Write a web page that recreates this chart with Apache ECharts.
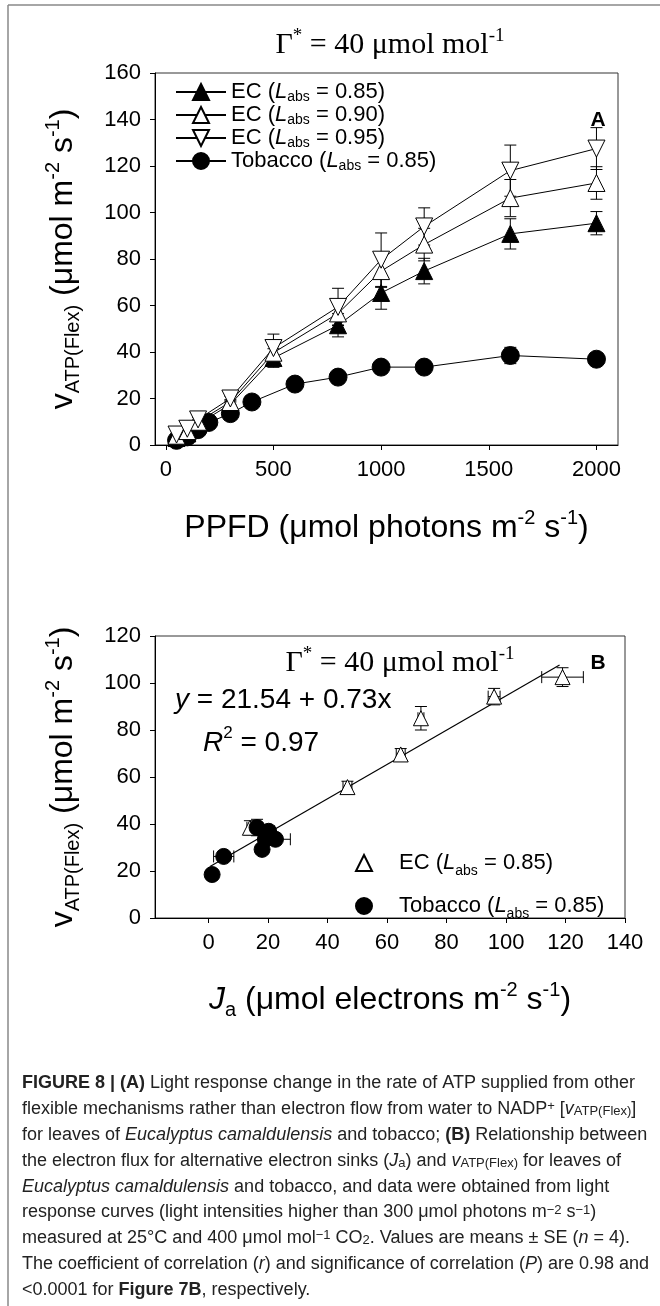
<!DOCTYPE html>
<html><head><meta charset="utf-8">
<script src="https://cdn.jsdelivr.net/npm/echarts@6/dist/echarts.min.js"></script>
<style>html,body{margin:0;padding:0;background:#fff;} #c{width:660px;height:1306px;}</style>
</head><body><div id="c"></div><script>
// ---------- Panel A data ----------
const ppfdEC = [50, 100, 150, 300, 500, 800, 1000, 1200, 1600, 2000];
const ec85 = [3, 5, 9, 17.5, 37.4, 51.5, 65.4, 74.8, 90.8, 95.4];
const ec85se = [0.5, 0.5, 0.8, 1, 4, 5, 7, 5.5, 6.5, 5];
const ec90 = [4, 6, 10, 18.5, 39.7, 56.6, 74.8, 86.2, 106.2, 112.7];
const ec90se = [0.5, 0.5, 0.8, 1, 4, 5, 7, 7, 8, 7];
const ec95 = [4.5, 7, 11, 20, 41.7, 59.4, 79.7, 94, 118, 127.5];
const ec95se = [0.5, 0.5, 0.8, 1, 6, 8, 11.5, 8, 11, 9];
const ppfdTob = [50, 100, 150, 200, 300, 400, 600, 800, 1000, 1200, 1600, 2000];
const tobA = [2, 3.5, 6.6, 9.7, 13.5, 18.5, 26.2, 29.2, 33.5, 33.5, 38.5, 36.9];
const tobAse = [0.5, 0.5, 0.8, 1, 1.5, 1.5, 1.5, 1.5, 1.8, 1.5, 3.5, 2];
const ticksA_x = [0, 500, 1000, 1500, 2000];
const legendNamesA = ['EC (Labs = 0.85)', 'EC (Labs = 0.90)', 'EC (Labs = 0.95)', 'Tobacco (Labs = 0.85)'];
// ---------- Panel B data ----------
const ecJa = [13.9, 46.7, 64.6, 71.4, 96, 119];
const ecJaSe = [1, 1.5, 1.5, 1, 2, 7];
const ecV = [38.4, 55.7, 69.6, 85, 94.2, 102.5];
const ecVSe = [3, 2.5, 2.5, 5, 3.5, 4];
const tobJa = [1.2, 5.1, 18, 19.1, 22.5, 16.3, 20.2];
const tobJaSe = [0.8, 3.4, 1, 1.5, 5, 1.5, 2];
const tobV = [18.5, 26.2, 29.2, 33.5, 33.5, 38.5, 36.9];
const tobVSe = [1, 1.5, 1.5, 1.5, 1.5, 3.5, 1.5];
const fitJa = [0.5, 118];
const fitV = [21.9, 107.7];
const ticksB_x = [0, 20, 40, 60, 80, 100, 120, 140];
const legendNamesB = ['EC (Labs = 0.85) ', 'Tobacco (Labs = 0.85) '];

const SANS = "'Liberation Sans', Arial, Helvetica, sans-serif";
const SERIF = "'Liberation Serif', 'Times New Roman', serif";
const INK = '#000';

const chart = echarts.init(document.getElementById('c'), null, {renderer: 'canvas', width: 660, height: 1306});

function richBig(size) {
  const s2 = Math.round(size * 0.62);
  return {
    n: {fontSize: size, fontFamily: SANS, color: INK, lineHeight: size + 8},
    i: {fontSize: size, fontFamily: SANS, fontStyle: 'italic', color: INK, lineHeight: size + 8},
    sub: {fontSize: s2, fontFamily: SANS, color: INK, lineHeight: s2, verticalAlign: 'bottom'},
    sup: {fontSize: s2, fontFamily: SANS, color: INK, lineHeight: s2, verticalAlign: 'top'}
  };
}
function legendFmt(name) {
  const m = name.trim().match(/^(.*)\(Labs = (.*)\)$/);
  return '{n|' + m[1] + '(}{i|L}{sub|abs}{n| = ' + m[2] + ')}';
}
function legendFmtB(name) {
  const m = name.trim().match(/^(.*)\(Labs = (.*)\)$/);
  return '{p|' + m[1] + '(}{i|L}{sub|abs}{n| = ' + m[2] + ')}';
}
function vErrData(xs, ys, se) { return xs.map((x, i) => [x, ys[i] - se[i], ys[i] + se[i]]); }
function hErrData(xs, ys, se) { return xs.map((x, i) => [x - se[i], x + se[i], ys[i]]); }
function errSeries(data, axis, cap, horizontal) {
  return {
    type: 'custom', xAxisIndex: axis, yAxisIndex: axis, z: 1, silent: true,
    encode: horizontal ? {x: [0, 1], y: 2} : {x: 0, y: [1, 2]},
    data: data,
    renderItem: function (params, api) {
      let a, b;
      if (horizontal) { a = api.coord([api.value(0), api.value(2)]); b = api.coord([api.value(1), api.value(2)]); }
      else { a = api.coord([api.value(0), api.value(1)]); b = api.coord([api.value(0), api.value(2)]); }
      const st = {stroke: INK, lineWidth: 1};
      const ch = [{type: 'line', shape: {x1: a[0], y1: a[1], x2: b[0], y2: b[1]}, style: st}];
      if (horizontal) {
        ch.push({type: 'line', shape: {x1: a[0], y1: a[1] - cap, x2: a[0], y2: a[1] + cap}, style: st});
        ch.push({type: 'line', shape: {x1: b[0], y1: b[1] - cap, x2: b[0], y2: b[1] + cap}, style: st});
      } else {
        ch.push({type: 'line', shape: {x1: a[0] - cap, y1: a[1], x2: a[0] + cap, y2: a[1]}, style: st});
        ch.push({type: 'line', shape: {x1: b[0] - cap, y1: b[1], x2: b[0] + cap, y2: b[1]}, style: st});
      }
      return {type: 'group', children: ch};
    }
  };
}
function lineSeries(name, xs, ys, symbol, rotate, fill, size) {
  return {
    type: 'line', name: name, xAxisIndex: 0, yAxisIndex: 0, z: 3,
    data: xs.map((x, i) => [x, ys[i]]),
    symbol: symbol, symbolRotate: rotate, symbolSize: size,
    lineStyle: {color: INK, width: 1},
    itemStyle: {color: fill, borderColor: INK, borderWidth: 1, opacity: 1},
    emphasis: {disabled: true}, animation: false
  };
}

const axisLbl = {fontSize: 22, fontFamily: SANS, color: INK, formatter: v => String(v)};
const CAPC = '#222';
const CAPF = 18;
const captionRich = {
  b: {fontWeight: 'bold', fontSize: CAPF, fontFamily: SANS, color: CAPC},
  i: {fontStyle: 'italic', fontSize: CAPF, fontFamily: SANS, color: CAPC},
  sub: {fontSize: 13, fontFamily: SANS, color: CAPC, verticalAlign: 'bottom', lineHeight: 13},
  sup: {fontSize: 13, fontFamily: SANS, color: CAPC, verticalAlign: 'top', lineHeight: 13}
};
const captionLines = [
  '{b|FIGURE 8 | (A)} Light response change in the rate of ATP supplied from other',
  'flexible mechanisms rather than electron flow from water to NADP{sup|+} [{i|v}{sub|ATP(Flex)}]',
  'for leaves of {i|Eucalyptus camaldulensis} and tobacco; {b|(B)} Relationship between',
  'the electron flux for alternative electron sinks ({i|J}{sub|a}) and {i|v}{sub|ATP(Flex)} for leaves of',
  '{i|Eucalyptus camaldulensis} and tobacco, and data were obtained from light',
  'response curves (light intensities higher than 300 \u03bcmol photons m{sup|\u22122} s{sup|\u22121})',
  'measured at 25\u00b0C and 400 \u03bcmol mol{sup|\u22121} CO{sub|2}. Values are means \u00b1 SE ({i|n} = 4).',
  'The coefficient of correlation ({i|r}) and significance of correlation ({i|P}) are 0.98 and',
  '<0.0001 for {b|Figure 7B}, respectively.'
];
const gammaRich = {t: {fontFamily: SERIF, fontSize: 30, color: INK, lineHeight: 36}, s: {fontFamily: SERIF, fontSize: 19, color: INK, lineHeight: 19, verticalAlign: 'top'}};

const graphics = [
  {type: 'line', shape: {x1: 8, y1: 5, x2: 660, y2: 5}, style: {stroke: '#888', lineWidth: 1.5}},
  {type: 'line', shape: {x1: 8, y1: 5, x2: 8, y2: 1306}, style: {stroke: '#888', lineWidth: 1.5}},
  {type: 'text', x: 390, y: 45, style: {text: '{t|\u0393}{s|*}{t| = 40 \u03bcmol mol}{s|-1}', align: 'center', verticalAlign: 'middle', rich: gammaRich}},
  {type: 'text', x: 400, y: 663, style: {text: '{t|\u0393}{s|*}{t| = 40 \u03bcmol mol}{s|-1}', align: 'center', verticalAlign: 'middle', rich: gammaRich}},
  {type: 'text', x: 598, y: 120, style: {text: 'A', font: 'bold 21px ' + SANS, fill: INK, align: 'center', verticalAlign: 'middle'}},
  {type: 'text', x: 598, y: 663, style: {text: 'B', font: 'bold 21px ' + SANS, fill: INK, align: 'center', verticalAlign: 'middle'}},
  {type: 'text', x: 175, y: 700, style: {text: '{i|y}{n| = 21.54 + 0.73x}', verticalAlign: 'middle', rich: richBig(28)}},
  {type: 'text', x: 203, y: 743, style: {text: '{i|R}{sup|2}{n| = 0.97}', verticalAlign: 'middle', rich: richBig(28)}}
];
captionLines.forEach((t, k) => {
  graphics.push({type: 'text', x: 22, y: 1083 + k * 25.9, style: {text: t, verticalAlign: 'middle', fontSize: CAPF, fontFamily: SANS, fill: CAPC, rich: captionRich}});
});

const yName = '{n|v}{sub|ATP(Flex)}{n| (\u03bcmol m}{sup|-2}{n| s}{sup|-1}{n|)}';
const legendRichA = {n: {fontSize: 22, fontFamily: SANS, color: INK, lineHeight: 24},
  i: {fontSize: 22, fontFamily: SANS, fontStyle: 'italic', color: INK, lineHeight: 24},
  sub: {fontSize: 14, fontFamily: SANS, color: INK, lineHeight: 14, verticalAlign: 'bottom'}};
const legendRichB = {n: {fontSize: 22, fontFamily: SANS, color: INK, lineHeight: 30},
  p: {fontSize: 22, fontFamily: SANS, color: INK, lineHeight: 30, padding: [0, 0, 0, 22]},
  i: {fontSize: 22, fontFamily: SANS, fontStyle: 'italic', color: INK, lineHeight: 30},
  sub: {fontSize: 14, fontFamily: SANS, color: INK, lineHeight: 14, verticalAlign: 'bottom'}};

const option = {
  animation: false,
  backgroundColor: '#fff',
  grid: [
    {left: 155, top: 73, width: 463, height: 372, show: true, borderColor: '#333', borderWidth: 1, containLabel: false},
    {left: 155, top: 636, width: 470, height: 282, show: true, borderColor: '#333', borderWidth: 1, containLabel: false}
  ],
  xAxis: [
    {gridIndex: 0, type: 'value', min: -50, max: 2100,
      axisLine: {onZero: false, lineStyle: {color: INK}}, splitLine: {show: false},
      axisTick: {customValues: ticksA_x, length: 5, lineStyle: {color: INK}},
      axisLabel: {customValues: ticksA_x, margin: 14, ...axisLbl},
      name: '{n|PPFD (\u03bcmol photons m}{sup|-2}{n| s}{sup|-1}{n|)}', nameLocation: 'middle', nameGap: 63,
      nameTextStyle: {rich: richBig(32)}},
    {gridIndex: 1, type: 'value', min: -18, max: 140,
      axisLine: {onZero: false, lineStyle: {color: INK}}, splitLine: {show: false},
      axisTick: {customValues: ticksB_x, length: 5, lineStyle: {color: INK}},
      axisLabel: {customValues: ticksB_x, margin: 14, ...axisLbl},
      name: '{i|J}{sub|a}{n| (\u03bcmol electrons m}{sup|-2}{n| s}{sup|-1}{n|)}', nameLocation: 'middle', nameGap: 62,
      nameTextStyle: {rich: richBig(32)}}
  ],
  yAxis: [
    {gridIndex: 0, type: 'value', min: 0, max: 160, interval: 20,
      axisLine: {show: true, onZero: false, lineStyle: {color: INK}}, splitLine: {show: false},
      axisTick: {show: true, length: 5, lineStyle: {color: INK}},
      axisLabel: {margin: 14, ...axisLbl},
      name: yName, nameLocation: 'middle', nameGap: 72, nameRotate: 90,
      nameTextStyle: {rich: richBig(32)}},
    {gridIndex: 1, type: 'value', min: 0, max: 120, interval: 20,
      axisLine: {show: true, onZero: false, lineStyle: {color: INK}}, splitLine: {show: false},
      axisTick: {show: true, length: 5, lineStyle: {color: INK}},
      axisLabel: {margin: 14, ...axisLbl},
      name: yName, nameLocation: 'middle', nameGap: 72, nameRotate: 90,
      nameTextStyle: {rich: richBig(32)}}
  ],
  legend: [
    {data: legendNamesA, orient: 'vertical', left: 170, top: 76, itemWidth: 50, itemHeight: 20, itemGap: 0,
      formatter: legendFmt, selectedMode: false, textStyle: {rich: legendRichA}},
    {data: legendNamesB, orient: 'vertical', left: 350, top: 847, itemWidth: 16, itemHeight: 16, itemGap: 17,
      formatter: legendFmtB, selectedMode: false, textStyle: {rich: legendRichB}}
  ],
  graphic: graphics,
  series: [
    errSeries(vErrData(ppfdEC, ec85, ec85se), 0, 6, false),
    errSeries(vErrData(ppfdEC, ec90, ec90se), 0, 6, false),
    errSeries(vErrData(ppfdEC, ec95, ec95se), 0, 6, false),
    errSeries(vErrData(ppfdTob, tobA, tobAse), 0, 6, false),
    lineSeries(legendNamesA[3], ppfdTob, tobA, 'circle', 0, INK, 18),
    lineSeries(legendNamesA[0], ppfdEC, ec85, 'triangle', 0, INK, 17),
    lineSeries(legendNamesA[1], ppfdEC, ec90, 'triangle', 0, '#fff', 17),
    lineSeries(legendNamesA[2], ppfdEC, ec95, 'triangle', 180, '#fff', 17),
    // Panel B
    {type: 'line', xAxisIndex: 1, yAxisIndex: 1, z: 2, silent: true, symbol: 'none',
      data: fitJa.map((x, i) => [x, fitV[i]]), lineStyle: {color: INK, width: 1.2}, animation: false},
    errSeries(vErrData(ecJa, ecV, ecVSe), 1, 6, false),
    errSeries(hErrData(ecJa, ecV, ecJaSe), 1, 6, true),
    errSeries(vErrData(tobJa, tobV, tobVSe), 1, 6, false),
    errSeries(hErrData(tobJa, tobV, tobJaSe), 1, 6, true),
    {type: 'scatter', name: legendNamesB[0], xAxisIndex: 1, yAxisIndex: 1, z: 3, symbol: 'triangle', symbolSize: 15,
      data: ecJa.map((x, i) => [x, ecV[i]]), itemStyle: {color: '#fff', borderColor: INK, borderWidth: 1, opacity: 1}, emphasis: {disabled: true}},
    {type: 'scatter', name: legendNamesB[1], xAxisIndex: 1, yAxisIndex: 1, z: 3, symbol: 'circle', symbolSize: 16,
      data: tobJa.map((x, i) => [x, tobV[i]]), itemStyle: {color: INK, borderColor: INK, borderWidth: 1, opacity: 1}, emphasis: {disabled: true}}
  ]
};
chart.setOption(option);
</script></body></html>
